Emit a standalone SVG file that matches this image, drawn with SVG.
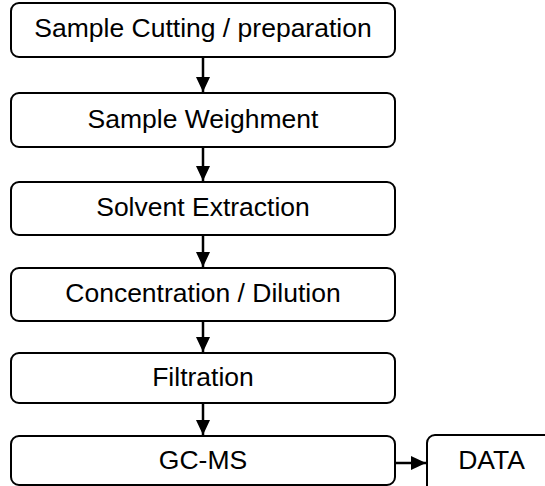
<svg xmlns="http://www.w3.org/2000/svg" width="545" height="486" viewBox="0 0 545 486">
<defs>
<style>
.box{fill:#fff;stroke:#000;stroke-width:2}
.lbl{font-family:"Liberation Sans",Arial,sans-serif;font-size:26.5px;fill:#000;text-anchor:middle}
.conn{stroke:#000;stroke-width:2.5;fill:none}
</style>
<marker id="ah" viewBox="0 0 15 14" refX="15" refY="7" markerWidth="15" markerHeight="14" markerUnits="userSpaceOnUse" orient="auto">
<path d="M0,0 L15,7 L0,14 Z" fill="#000"/>
</marker>
</defs>
<rect width="545" height="486" fill="#fff"/>
<g id="n1"><rect class="box" x="11" y="3" width="384" height="54" rx="8"/><text class="lbl" x="203" y="37">Sample Cutting / preparation</text></g>
<g id="n2"><rect class="box" x="11" y="93" width="384" height="54" rx="8"/><text class="lbl" x="203" y="128">Sample Weighment</text></g>
<g id="n3"><rect class="box" x="11" y="182" width="384" height="53" rx="8"/><text class="lbl" x="203" y="216">Solvent Extraction</text></g>
<g id="n4"><rect class="box" x="11" y="268" width="384" height="53" rx="8"/><text class="lbl" x="203" y="302">Concentration / Dilution</text></g>
<g id="n5"><rect class="box" x="11" y="353" width="384" height="50" rx="8"/><text class="lbl" x="203" y="386">Filtration</text></g>
<g id="n6"><rect class="box" x="11" y="436" width="384" height="49" rx="8"/><text class="lbl" x="203" y="469">GC-MS</text></g>
<g id="n7"><rect class="box" x="427" y="435" width="140" height="70" rx="8"/><text class="lbl" x="491.5" y="469">DATA</text></g>
<g id="connectors">
<line class="conn" x1="203" y1="57" x2="203" y2="92" marker-end="url(#ah)"/>
<line class="conn" x1="203" y1="147" x2="203" y2="181" marker-end="url(#ah)"/>
<line class="conn" x1="203" y1="235" x2="203" y2="267" marker-end="url(#ah)"/>
<line class="conn" x1="203" y1="321" x2="203" y2="352" marker-end="url(#ah)"/>
<line class="conn" x1="203" y1="403" x2="203" y2="435" marker-end="url(#ah)"/>
<line class="conn" x1="395" y1="463" x2="426" y2="463" marker-end="url(#ah)"/>
</g>
</svg>
